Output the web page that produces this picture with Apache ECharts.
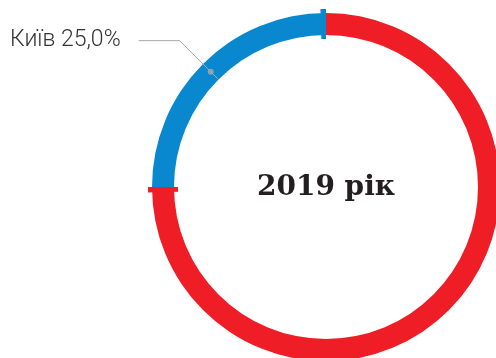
<!DOCTYPE html>
<html>
<head>
<meta charset="utf-8">
<script src="https://cdn.jsdelivr.net/npm/echarts@6/dist/echarts.min.js"></script>
<style>
  html, body { margin: 0; padding: 0; background: #fff; }
  #chart { width: 496px; height: 358px; }
</style>
</head>
<body>
<div id="chart"></div>
<script>
// дані
const categories = ['Інші регіони', 'Київ']
const shares = [75, 25]
const colors = ['#ee1d26', '#0a88cf']
const yearLabel = '2019 рік'

const center = [326, 187]
const tickSize = 0.5 // ширина позначки на кінці сегмента, у відсотках

const chart = echarts.init(document.getElementById('chart'))

// основне кільце
const ringData = categories.map((name, i) => ({
  name,
  value: shares[i],
  itemStyle: { color: colors[i] }
}))

// маленькі позначки на кінці кожного сегмента
const tickData = []
shares.forEach((v, i) => {
  tickData.push({ value: v - tickSize, itemStyle: { color: 'transparent' } })
  tickData.push({ value: tickSize, itemStyle: { color: colors[i] } })
})

// невидима серія лише для підпису (лінія починається з середини кільця)
const labelData = categories.map((name, i) => ({
  name,
  value: shares[i],
  label: { show: name === 'Київ' },
  labelLine: { show: name === 'Київ' }
}))

// кут середини сегмента «Київ» для точки на початку лінії
const kyivIndex = categories.indexOf('Київ')
const before = shares.slice(0, kyivIndex).reduce((a, b) => a + b, 0)
const total = shares.reduce((a, b) => a + b, 0)
const kyivMid = (before + shares[kyivIndex] / 2) / total * 100

chart.setOption({
  animation: false,
  backgroundColor: '#fff',
  polar: { center, radius: 174 },
  angleAxis: { type: 'value', min: 0, max: 100, startAngle: 90, show: false },
  radiusAxis: { type: 'value', min: 0, max: 174, show: false },
  graphic: [{
    type: 'text',
    x: center[0],
    y: center[1] + 1,
    style: {
      text: yearLabel,
      font: 'bold 28px "DejaVu Serif"',
      fill: '#231f20',
      textAlign: 'center',
      textVerticalAlign: 'middle'
    }
  }],
  series: [
    {
      type: 'pie',
      center,
      radius: [148, 178],
      startAngle: 90,
      silent: true,
      label: { show: false },
      labelLine: { show: false },
      data: tickData
    },
    {
      type: 'pie',
      center,
      radius: [152, 174],
      startAngle: 90,
      silent: true,
      label: { show: false },
      labelLine: { show: false },
      data: ringData
    },
    {
      type: 'pie',
      z: 5,
      center,
      radius: [0, 153],
      startAngle: 90,
      silent: true,
      avoidLabelOverlap: false,
      itemStyle: { color: 'transparent' },
      label: {
        position: 'outside',
        alignTo: 'none',
        overflow: 'none',
        edgeDistance: 0,
        bleedMargin: 0,
        distanceToLabelLine: 18,
        color: '#333',
        fontFamily: 'Roboto',
        fontWeight: 300,
        fontSize: 23,
        formatter: (p) => p.name + ' ' + p.percent.toFixed(1).replace('.', ',') + '%'
      },
      labelLine: {
        length: 54,
        length2: 41,
        lineStyle: { color: '#a7a9ac', width: 1 }
      },
      data: labelData
    },
    {
      type: 'scatter',
      z: 6,
      coordinateSystem: 'polar',
      symbolSize: 6,
      silent: true,
      itemStyle: { color: '#a7a9ac' },
      data: [[163, kyivMid]]
    }
  ]
})
</script>
</body>
</html>
